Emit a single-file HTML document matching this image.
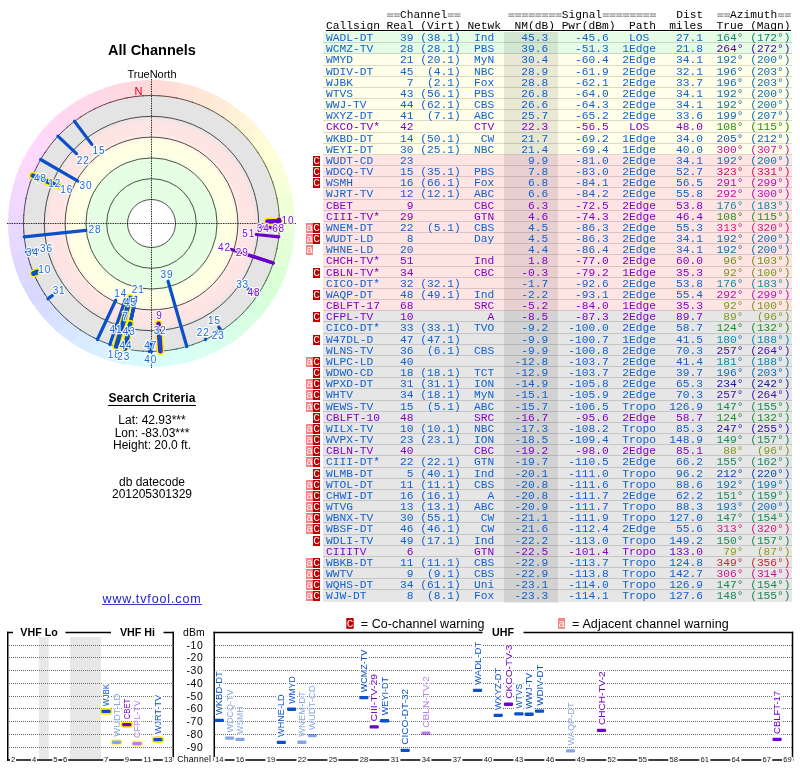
<!DOCTYPE html>
<html><head><meta charset="utf-8"><title>TV Fool</title>
<style>
html,body{margin:0;padding:0;background:#fff}
body{width:800px;height:768px;position:relative;overflow:hidden;font-family:"Liberation Sans",sans-serif;color:#000}
.abs{position:absolute}
.ctr{position:absolute;left:2px;width:300px;text-align:center;white-space:nowrap}
.mono{font-family:"Liberation Mono",monospace;font-size:11.235px;white-space:pre}
.hd{position:absolute;left:326px;height:12px;line-height:12px}
.r{position:absolute;left:323px;width:469px;box-sizing:border-box;border-bottom:1px solid rgba(0,0,0,0.14)}
.r .nm{position:absolute;left:181px;width:54px;top:0;bottom:-1px;background:rgba(0,0,0,0.085)}
.r pre{position:absolute;left:3px;top:0;margin:0;font-family:"Liberation Mono",monospace;font-size:11.235px;white-space:pre}
.eq{color:transparent}
.g{background:#e6fce6}.y{background:#fffee8}.p{background:#ffe4e4}.k{background:#e6e6e6}
.b{color:#1060d0}.v{color:#8000c8}
.wm{position:absolute;width:7px;height:10px;color:#fff;font-family:"Liberation Mono",monospace;font-size:11.235px;line-height:10px;text-align:center;overflow:hidden}
.wc{background:#c00000}.wa{background:#f48484}
svg text{font-family:"Liberation Sans",sans-serif}
</style></head><body><div id="w" style="position:absolute;left:0;top:0;width:800px;height:768px;will-change:transform;background:#fff">

<div class="ctr" style="top:42.4px;font-weight:bold;font-size:14.5px;line-height:17px">All Channels</div>
<div class="ctr" style="top:68px;font-size:11px;line-height:13px">TrueNorth</div>
<div class="ctr" style="top:391px;font-weight:bold;font-size:12px;line-height:14px"><span style="border-bottom:1px solid #000;padding-bottom:0px;letter-spacing:0.12px">Search Criteria</span></div>
<div class="ctr" style="top:414px;font-size:12px;line-height:12.5px">Lat: 42.93***<br>Lon: -83.03***<br>Height: 20.0 ft.</div>
<div class="ctr" style="top:476px;font-size:12px;line-height:12.2px">db datecode<br>201205301329</div>
<div class="ctr" style="top:591.5px;font-size:12.5px;line-height:14px;letter-spacing:0.87px;color:#2222c8">www.tvfool.com</div>
<div class="abs" style="left:102px;top:604px;width:100px;height:1px;background:#3a3acc"></div>
<svg class="abs" style="left:0;top:0" width="310" height="380" viewBox="0 0 310 380">
<defs><radialGradient id="zg" gradientUnits="userSpaceOnUse" cx="151.5" cy="223.5" r="128">
<stop offset="0.0000" stop-color="#ffffff"/>
<stop offset="0.1875" stop-color="#ffffff"/>
<stop offset="0.1876" stop-color="#e4ffe4"/>
<stop offset="0.4844" stop-color="#e4ffe4"/>
<stop offset="0.5469" stop-color="#ffffe4"/>
<stop offset="0.6406" stop-color="#ffffe4"/>
<stop offset="0.7031" stop-color="#ffe4e4"/>
<stop offset="0.7891" stop-color="#ffe4e4"/>
<stop offset="0.8438" stop-color="#e4e4e4"/>
<stop offset="1.0000" stop-color="#e4e4e4"/>
</radialGradient></defs>
<path d="M151.5 223.5 L141.37 80.36 A143.5 143.5 0 0 1 161.63 80.36 Z" fill="#ffd8d8"/>
<path d="M151.5 223.5 L160.14 80.26 A143.5 143.5 0 0 1 180.23 82.91 Z" fill="#ffddd8"/>
<path d="M151.5 223.5 L178.76 82.61 A143.5 143.5 0 0 1 198.34 87.86 Z" fill="#ffe2d8"/>
<path d="M151.5 223.5 L196.91 87.38 A143.5 143.5 0 0 1 215.64 95.13 Z" fill="#ffe7d8"/>
<path d="M151.5 223.5 L214.29 94.47 A143.5 143.5 0 0 1 231.85 104.60 Z" fill="#ffebd8"/>
<path d="M151.5 223.5 L230.60 103.77 A143.5 143.5 0 0 1 246.68 116.11 Z" fill="#fff0d8"/>
<path d="M151.5 223.5 L245.55 115.12 A143.5 143.5 0 0 1 259.88 129.45 Z" fill="#fff5d8"/>
<path d="M151.5 223.5 L258.89 128.32 A143.5 143.5 0 0 1 271.23 144.40 Z" fill="#fffad8"/>
<path d="M151.5 223.5 L270.40 143.15 A143.5 143.5 0 0 1 280.53 160.71 Z" fill="#ffffd8"/>
<path d="M151.5 223.5 L279.87 159.36 A143.5 143.5 0 0 1 287.62 178.09 Z" fill="#faffd8"/>
<path d="M151.5 223.5 L287.14 176.66 A143.5 143.5 0 0 1 292.39 196.24 Z" fill="#f5ffd8"/>
<path d="M151.5 223.5 L292.09 194.77 A143.5 143.5 0 0 1 294.74 214.86 Z" fill="#f0ffd8"/>
<path d="M151.5 223.5 L294.64 213.37 A143.5 143.5 0 0 1 294.64 233.63 Z" fill="#ebffd8"/>
<path d="M151.5 223.5 L294.74 232.14 A143.5 143.5 0 0 1 292.09 252.23 Z" fill="#e7ffd8"/>
<path d="M151.5 223.5 L292.39 250.76 A143.5 143.5 0 0 1 287.14 270.34 Z" fill="#e2ffd8"/>
<path d="M151.5 223.5 L287.62 268.91 A143.5 143.5 0 0 1 279.87 287.64 Z" fill="#ddffd8"/>
<path d="M151.5 223.5 L280.53 286.29 A143.5 143.5 0 0 1 270.40 303.85 Z" fill="#d8ffd8"/>
<path d="M151.5 223.5 L271.23 302.60 A143.5 143.5 0 0 1 258.89 318.68 Z" fill="#d8ffdd"/>
<path d="M151.5 223.5 L259.88 317.55 A143.5 143.5 0 0 1 245.55 331.88 Z" fill="#d8ffe2"/>
<path d="M151.5 223.5 L246.68 330.89 A143.5 143.5 0 0 1 230.60 343.23 Z" fill="#d8ffe7"/>
<path d="M151.5 223.5 L231.85 342.40 A143.5 143.5 0 0 1 214.29 352.53 Z" fill="#d8ffeb"/>
<path d="M151.5 223.5 L215.64 351.87 A143.5 143.5 0 0 1 196.91 359.62 Z" fill="#d8fff0"/>
<path d="M151.5 223.5 L198.34 359.14 A143.5 143.5 0 0 1 178.76 364.39 Z" fill="#d8fff5"/>
<path d="M151.5 223.5 L180.23 364.09 A143.5 143.5 0 0 1 160.14 366.74 Z" fill="#d8fffa"/>
<path d="M151.5 223.5 L161.63 366.64 A143.5 143.5 0 0 1 141.37 366.64 Z" fill="#d8ffff"/>
<path d="M151.5 223.5 L142.86 366.74 A143.5 143.5 0 0 1 122.77 364.09 Z" fill="#d8faff"/>
<path d="M151.5 223.5 L124.24 364.39 A143.5 143.5 0 0 1 104.66 359.14 Z" fill="#d8f5ff"/>
<path d="M151.5 223.5 L106.09 359.62 A143.5 143.5 0 0 1 87.36 351.87 Z" fill="#d8f0ff"/>
<path d="M151.5 223.5 L88.71 352.53 A143.5 143.5 0 0 1 71.15 342.40 Z" fill="#d8ebff"/>
<path d="M151.5 223.5 L72.40 343.23 A143.5 143.5 0 0 1 56.32 330.89 Z" fill="#d8e7ff"/>
<path d="M151.5 223.5 L57.45 331.88 A143.5 143.5 0 0 1 43.12 317.55 Z" fill="#d8e2ff"/>
<path d="M151.5 223.5 L44.11 318.68 A143.5 143.5 0 0 1 31.77 302.60 Z" fill="#d8ddff"/>
<path d="M151.5 223.5 L32.60 303.85 A143.5 143.5 0 0 1 22.47 286.29 Z" fill="#d8d8ff"/>
<path d="M151.5 223.5 L23.13 287.64 A143.5 143.5 0 0 1 15.38 268.91 Z" fill="#ddd8ff"/>
<path d="M151.5 223.5 L15.86 270.34 A143.5 143.5 0 0 1 10.61 250.76 Z" fill="#e2d8ff"/>
<path d="M151.5 223.5 L10.91 252.23 A143.5 143.5 0 0 1 8.26 232.14 Z" fill="#e7d8ff"/>
<path d="M151.5 223.5 L8.36 233.63 A143.5 143.5 0 0 1 8.36 213.37 Z" fill="#ebd8ff"/>
<path d="M151.5 223.5 L8.26 214.86 A143.5 143.5 0 0 1 10.91 194.77 Z" fill="#f0d8ff"/>
<path d="M151.5 223.5 L10.61 196.24 A143.5 143.5 0 0 1 15.86 176.66 Z" fill="#f5d8ff"/>
<path d="M151.5 223.5 L15.38 178.09 A143.5 143.5 0 0 1 23.13 159.36 Z" fill="#fad8ff"/>
<path d="M151.5 223.5 L22.47 160.71 A143.5 143.5 0 0 1 32.60 143.15 Z" fill="#ffd8ff"/>
<path d="M151.5 223.5 L31.77 144.40 A143.5 143.5 0 0 1 44.11 128.32 Z" fill="#ffd8fa"/>
<path d="M151.5 223.5 L43.12 129.45 A143.5 143.5 0 0 1 57.45 115.12 Z" fill="#ffd8f5"/>
<path d="M151.5 223.5 L56.32 116.11 A143.5 143.5 0 0 1 72.40 103.77 Z" fill="#ffd8f0"/>
<path d="M151.5 223.5 L71.15 104.60 A143.5 143.5 0 0 1 88.71 94.47 Z" fill="#ffd8eb"/>
<path d="M151.5 223.5 L87.36 95.13 A143.5 143.5 0 0 1 106.09 87.38 Z" fill="#ffd8e7"/>
<path d="M151.5 223.5 L104.66 87.86 A143.5 143.5 0 0 1 124.24 82.61 Z" fill="#ffd8e2"/>
<path d="M151.5 223.5 L122.77 82.91 A143.5 143.5 0 0 1 142.86 80.26 Z" fill="#ffd8dd"/>
<circle cx="151.5" cy="223.5" r="128" fill="url(#zg)"/>
<circle cx="151.5" cy="223.5" r="24" fill="none" stroke="#222" stroke-width="0.8"/>
<circle cx="151.5" cy="223.5" r="44.8" fill="none" stroke="#222" stroke-width="0.8"/>
<circle cx="151.5" cy="223.5" r="65.6" fill="none" stroke="#222" stroke-width="0.8"/>
<circle cx="151.5" cy="223.5" r="86.4" fill="none" stroke="#222" stroke-width="0.8"/>
<circle cx="151.5" cy="223.5" r="107.2" fill="none" stroke="#222" stroke-width="0.8"/>
<path d="M142.46 95.82 A128 128 0 0 1 160.54 95.82" fill="none" stroke="#603030" stroke-width="0.9"/>
<path d="M159.20 95.73 A128 128 0 0 1 177.13 98.09" fill="none" stroke="#603630" stroke-width="0.9"/>
<path d="M175.81 97.83 A128 128 0 0 1 193.28 102.51" fill="none" stroke="#603c30" stroke-width="0.9"/>
<path d="M192.01 102.08 A128 128 0 0 1 208.71 109.00" fill="none" stroke="#604230" stroke-width="0.9"/>
<path d="M207.51 108.41 A128 128 0 0 1 223.17 117.45" fill="none" stroke="#604830" stroke-width="0.9"/>
<path d="M222.05 116.70 A128 128 0 0 1 236.40 127.71" fill="none" stroke="#604e30" stroke-width="0.9"/>
<path d="M235.39 126.82 A128 128 0 0 1 248.18 139.61" fill="none" stroke="#605430" stroke-width="0.9"/>
<path d="M247.29 138.60 A128 128 0 0 1 258.30 152.95" fill="none" stroke="#605a30" stroke-width="0.9"/>
<path d="M257.55 151.83 A128 128 0 0 1 266.59 167.49" fill="none" stroke="#606030" stroke-width="0.9"/>
<path d="M266.00 166.29 A128 128 0 0 1 272.92 182.99" fill="none" stroke="#5a6030" stroke-width="0.9"/>
<path d="M272.49 181.72 A128 128 0 0 1 277.17 199.19" fill="none" stroke="#546030" stroke-width="0.9"/>
<path d="M276.91 197.87 A128 128 0 0 1 279.27 215.80" fill="none" stroke="#4e6030" stroke-width="0.9"/>
<path d="M279.18 214.46 A128 128 0 0 1 279.18 232.54" fill="none" stroke="#486030" stroke-width="0.9"/>
<path d="M279.27 231.20 A128 128 0 0 1 276.91 249.13" fill="none" stroke="#426030" stroke-width="0.9"/>
<path d="M277.17 247.81 A128 128 0 0 1 272.49 265.28" fill="none" stroke="#3c6030" stroke-width="0.9"/>
<path d="M272.92 264.01 A128 128 0 0 1 266.00 280.71" fill="none" stroke="#366030" stroke-width="0.9"/>
<path d="M266.59 279.51 A128 128 0 0 1 257.55 295.17" fill="none" stroke="#306030" stroke-width="0.9"/>
<path d="M258.30 294.05 A128 128 0 0 1 247.29 308.40" fill="none" stroke="#306036" stroke-width="0.9"/>
<path d="M248.18 307.39 A128 128 0 0 1 235.39 320.18" fill="none" stroke="#30603c" stroke-width="0.9"/>
<path d="M236.40 319.29 A128 128 0 0 1 222.05 330.30" fill="none" stroke="#306042" stroke-width="0.9"/>
<path d="M223.17 329.55 A128 128 0 0 1 207.51 338.59" fill="none" stroke="#306048" stroke-width="0.9"/>
<path d="M208.71 338.00 A128 128 0 0 1 192.01 344.92" fill="none" stroke="#30604e" stroke-width="0.9"/>
<path d="M193.28 344.49 A128 128 0 0 1 175.81 349.17" fill="none" stroke="#306054" stroke-width="0.9"/>
<path d="M177.13 348.91 A128 128 0 0 1 159.20 351.27" fill="none" stroke="#30605a" stroke-width="0.9"/>
<path d="M160.54 351.18 A128 128 0 0 1 142.46 351.18" fill="none" stroke="#306060" stroke-width="0.9"/>
<path d="M143.80 351.27 A128 128 0 0 1 125.87 348.91" fill="none" stroke="#305a60" stroke-width="0.9"/>
<path d="M127.19 349.17 A128 128 0 0 1 109.72 344.49" fill="none" stroke="#305460" stroke-width="0.9"/>
<path d="M110.99 344.92 A128 128 0 0 1 94.29 338.00" fill="none" stroke="#304e60" stroke-width="0.9"/>
<path d="M95.49 338.59 A128 128 0 0 1 79.83 329.55" fill="none" stroke="#304860" stroke-width="0.9"/>
<path d="M80.95 330.30 A128 128 0 0 1 66.60 319.29" fill="none" stroke="#304260" stroke-width="0.9"/>
<path d="M67.61 320.18 A128 128 0 0 1 54.82 307.39" fill="none" stroke="#303c60" stroke-width="0.9"/>
<path d="M55.71 308.40 A128 128 0 0 1 44.70 294.05" fill="none" stroke="#303660" stroke-width="0.9"/>
<path d="M45.45 295.17 A128 128 0 0 1 36.41 279.51" fill="none" stroke="#303060" stroke-width="0.9"/>
<path d="M37.00 280.71 A128 128 0 0 1 30.08 264.01" fill="none" stroke="#363060" stroke-width="0.9"/>
<path d="M30.51 265.28 A128 128 0 0 1 25.83 247.81" fill="none" stroke="#3c3060" stroke-width="0.9"/>
<path d="M26.09 249.13 A128 128 0 0 1 23.73 231.20" fill="none" stroke="#423060" stroke-width="0.9"/>
<path d="M23.82 232.54 A128 128 0 0 1 23.82 214.46" fill="none" stroke="#483060" stroke-width="0.9"/>
<path d="M23.73 215.80 A128 128 0 0 1 26.09 197.87" fill="none" stroke="#4e3060" stroke-width="0.9"/>
<path d="M25.83 199.19 A128 128 0 0 1 30.51 181.72" fill="none" stroke="#543060" stroke-width="0.9"/>
<path d="M30.08 182.99 A128 128 0 0 1 37.00 166.29" fill="none" stroke="#5a3060" stroke-width="0.9"/>
<path d="M36.41 167.49 A128 128 0 0 1 45.45 151.83" fill="none" stroke="#603060" stroke-width="0.9"/>
<path d="M44.70 152.95 A128 128 0 0 1 55.71 138.60" fill="none" stroke="#60305a" stroke-width="0.9"/>
<path d="M54.82 139.61 A128 128 0 0 1 67.61 126.82" fill="none" stroke="#603054" stroke-width="0.9"/>
<path d="M66.60 127.71 A128 128 0 0 1 80.95 116.70" fill="none" stroke="#60304e" stroke-width="0.9"/>
<path d="M79.83 117.45 A128 128 0 0 1 95.49 108.41" fill="none" stroke="#603048" stroke-width="0.9"/>
<path d="M94.29 109.00 A128 128 0 0 1 110.99 102.08" fill="none" stroke="#603042" stroke-width="0.9"/>
<path d="M109.72 102.51 A128 128 0 0 1 127.19 97.83" fill="none" stroke="#60303c" stroke-width="0.9"/>
<path d="M125.87 98.09 A128 128 0 0 1 143.80 95.73" fill="none" stroke="#603036" stroke-width="0.9"/>
<line x1="7" y1="223.5" x2="296" y2="223.5" stroke="#000" stroke-width="1" stroke-dasharray="0.857 0.857"/>
<line x1="151.5" y1="79" x2="151.5" y2="368" stroke="#000" stroke-width="1" stroke-dasharray="0.857 0.857"/>
<text x="138.5" y="95.3" font-size="11" fill="#e00020" text-anchor="middle">N</text>
<line x1="186.78" y1="346.54" x2="168.06" y2="281.26" stroke="#0a50c8" stroke-width="3.2" stroke-linecap="round"/>
<line x1="24.20" y1="236.88" x2="85.85" y2="230.40" stroke="#0a50c8" stroke-width="3.2" stroke-linecap="round"/>
<line x1="124.89" y1="348.70" x2="135.79" y2="297.43" stroke="#0a50c8" stroke-width="3.2" stroke-linecap="round"/>
<line x1="116.22" y1="346.54" x2="130.24" y2="297.66" stroke="#0a50c8" stroke-width="3.2" stroke-linecap="round"/>
<line x1="116.22" y1="346.54" x2="130.21" y2="297.76" stroke="#ffee00" stroke-width="7.8" stroke-linecap="round"/>
<line x1="116.22" y1="346.54" x2="130.21" y2="297.76" stroke="#0a50c8" stroke-width="4.6" stroke-linecap="round"/>
<line x1="124.89" y1="348.70" x2="135.01" y2="301.09" stroke="#0a50c8" stroke-width="3.2" stroke-linecap="round"/>
<line x1="124.89" y1="348.70" x2="134.96" y2="301.30" stroke="#0a50c8" stroke-width="3.2" stroke-linecap="round"/>
<line x1="109.83" y1="344.53" x2="125.30" y2="299.59" stroke="#0a50c8" stroke-width="3.2" stroke-linecap="round"/>
<line x1="273.24" y1="263.05" x2="231.40" y2="249.46" stroke="#6a00c8" stroke-width="3.2" stroke-linecap="round"/>
<line x1="97.40" y1="339.51" x2="115.73" y2="300.20" stroke="#0a50c8" stroke-width="3.2" stroke-linecap="round"/>
<line x1="40.65" y1="159.50" x2="77.94" y2="181.03" stroke="#0a50c8" stroke-width="3.2" stroke-linecap="round"/>
<line x1="124.89" y1="348.70" x2="131.35" y2="318.29" stroke="#0a50c8" stroke-width="3.2" stroke-linecap="round"/>
<line x1="74.47" y1="121.27" x2="91.87" y2="144.36" stroke="#0a50c8" stroke-width="3.2" stroke-linecap="round"/>
<line x1="32.00" y1="177.63" x2="58.02" y2="187.62" stroke="#0a50c8" stroke-width="3.2" stroke-linecap="round"/>
<line x1="32.82" y1="175.55" x2="58.47" y2="185.91" stroke="#ffee00" stroke-width="7.8" stroke-linecap="round"/>
<line x1="32.82" y1="175.55" x2="58.47" y2="185.91" stroke="#0a50c8" stroke-width="4.6" stroke-linecap="round"/>
<line x1="160.43" y1="351.19" x2="158.52" y2="323.90" stroke="#ffee00" stroke-width="7.8" stroke-linecap="round"/>
<line x1="160.43" y1="351.19" x2="158.52" y2="323.90" stroke="#6a00c8" stroke-width="4.6" stroke-linecap="round"/>
<line x1="273.24" y1="263.05" x2="248.90" y2="255.15" stroke="#6a00c8" stroke-width="3.2" stroke-linecap="round"/>
<line x1="57.89" y1="136.20" x2="76.52" y2="153.58" stroke="#0a50c8" stroke-width="3.2" stroke-linecap="round"/>
<line x1="124.89" y1="348.70" x2="130.18" y2="323.78" stroke="#ffee00" stroke-width="7.8" stroke-linecap="round"/>
<line x1="124.89" y1="348.70" x2="130.18" y2="323.78" stroke="#0a50c8" stroke-width="4.6" stroke-linecap="round"/>
<line x1="124.89" y1="348.70" x2="130.16" y2="323.88" stroke="#0a50c8" stroke-width="3.2" stroke-linecap="round"/>
<line x1="278.80" y1="236.88" x2="256.25" y2="234.51" stroke="#6a00c8" stroke-width="3.2" stroke-linecap="round"/>
<line x1="279.42" y1="227.97" x2="258.95" y2="227.25" stroke="#6a00c8" stroke-width="3.2" stroke-linecap="round"/>
<line x1="160.43" y1="351.19" x2="159.10" y2="332.20" stroke="#0a50c8" stroke-width="3.2" stroke-linecap="round"/>
<line x1="32.82" y1="175.55" x2="49.98" y2="182.49" stroke="#0a50c8" stroke-width="3.2" stroke-linecap="round"/>
<line x1="279.42" y1="227.97" x2="264.04" y2="227.43" stroke="#6a00c8" stroke-width="3.2" stroke-linecap="round"/>
<line x1="279.48" y1="221.27" x2="267.52" y2="221.47" stroke="#ffee00" stroke-width="7.8" stroke-linecap="round"/>
<line x1="279.48" y1="221.27" x2="267.52" y2="221.47" stroke="#6a00c8" stroke-width="4.6" stroke-linecap="round"/>
<line x1="257.62" y1="295.08" x2="248.31" y2="288.80" stroke="#0a50c8" stroke-width="3.2" stroke-linecap="round"/>
<line x1="151.50" y1="351.50" x2="151.50" y2="341.00" stroke="#0a50c8" stroke-width="3.2" stroke-linecap="round"/>
<line x1="26.78" y1="252.29" x2="37.02" y2="249.93" stroke="#0a50c8" stroke-width="3.2" stroke-linecap="round"/>
<line x1="149.27" y1="351.48" x2="149.40" y2="343.99" stroke="#0a50c8" stroke-width="3.2" stroke-linecap="round"/>
<line x1="116.22" y1="346.54" x2="118.25" y2="339.44" stroke="#0a50c8" stroke-width="3.2" stroke-linecap="round"/>
<line x1="47.95" y1="298.74" x2="52.24" y2="295.62" stroke="#0a50c8" stroke-width="3.2" stroke-linecap="round"/>
<line x1="26.78" y1="252.29" x2="31.75" y2="251.15" stroke="#0a50c8" stroke-width="3.2" stroke-linecap="round"/>
<line x1="221.21" y1="330.85" x2="218.78" y2="327.10" stroke="#0a50c8" stroke-width="3.2" stroke-linecap="round"/>
<line x1="257.62" y1="295.08" x2="254.77" y2="293.16" stroke="#6a00c8" stroke-width="3.2" stroke-linecap="round"/>
<line x1="33.68" y1="273.51" x2="36.90" y2="272.15" stroke="#ffee00" stroke-width="7.8" stroke-linecap="round"/>
<line x1="33.68" y1="273.51" x2="36.90" y2="272.15" stroke="#0a50c8" stroke-width="5" stroke-linecap="round"/>
<line x1="217.42" y1="333.22" x2="216.62" y2="331.88" stroke="#0a50c8" stroke-width="3.2" stroke-linecap="round"/>
<line x1="279.42" y1="219.03" x2="278.59" y2="219.06" stroke="#6a00c8" stroke-width="3.2" stroke-linecap="round"/>
<line x1="205.60" y1="339.51" x2="205.46" y2="339.22" stroke="#0a50c8" stroke-width="3.2" stroke-linecap="round"/>
<text x="99.0" y="153.7" font-size="10" letter-spacing="0.9" text-anchor="middle" fill="#1a6adc" stroke="#fff" stroke-width="2.4" stroke-linejoin="round" stroke-opacity="0.85" paint-order="stroke">15</text>
<text x="83.2" y="163.8" font-size="10" letter-spacing="0.9" text-anchor="middle" fill="#1a6adc" stroke="#fff" stroke-width="2.4" stroke-linejoin="round" stroke-opacity="0.85" paint-order="stroke">22</text>
<text x="86.0" y="188.9" font-size="10" letter-spacing="0.9" text-anchor="middle" fill="#1a6adc" stroke="#fff" stroke-width="2.4" stroke-linejoin="round" stroke-opacity="0.85" paint-order="stroke">30</text>
<text x="40.5" y="182.4" font-size="10" letter-spacing="0.9" text-anchor="middle" fill="#1a6adc" stroke="#fff" stroke-width="2.4" stroke-linejoin="round" stroke-opacity="0.85" paint-order="stroke">48</text>
<text x="54.8" y="186.9" font-size="10" letter-spacing="0.9" text-anchor="middle" fill="#1a6adc" stroke="#fff" stroke-width="2.4" stroke-linejoin="round" stroke-opacity="0.85" paint-order="stroke">12</text>
<text x="66.8" y="193.4" font-size="10" letter-spacing="0.9" text-anchor="middle" fill="#1a6adc" stroke="#fff" stroke-width="2.4" stroke-linejoin="round" stroke-opacity="0.85" paint-order="stroke">16</text>
<text x="95.0" y="233.1" font-size="10" letter-spacing="0.9" text-anchor="middle" fill="#1a6adc" stroke="#fff" stroke-width="2.4" stroke-linejoin="round" stroke-opacity="0.85" paint-order="stroke">28</text>
<text x="32.5" y="255.6" font-size="10" letter-spacing="0.9" text-anchor="middle" fill="#1a6adc" stroke="#fff" stroke-width="2.4" stroke-linejoin="round" stroke-opacity="0.85" paint-order="stroke">34</text>
<text x="46.5" y="252.3" font-size="10" letter-spacing="0.9" text-anchor="middle" fill="#1a6adc" stroke="#fff" stroke-width="2.4" stroke-linejoin="round" stroke-opacity="0.85" paint-order="stroke">36</text>
<text x="44.7" y="272.9" font-size="10" letter-spacing="0.9" text-anchor="middle" fill="#1a6adc" stroke="#fff" stroke-width="2.4" stroke-linejoin="round" stroke-opacity="0.85" paint-order="stroke">10</text>
<text x="59.1" y="294.4" font-size="10" letter-spacing="0.9" text-anchor="middle" fill="#1a6adc" stroke="#fff" stroke-width="2.4" stroke-linejoin="round" stroke-opacity="0.85" paint-order="stroke">31</text>
<text x="120.7" y="297.0" font-size="10" letter-spacing="0.9" text-anchor="middle" fill="#1a6adc" stroke="#fff" stroke-width="2.4" stroke-linejoin="round" stroke-opacity="0.85" paint-order="stroke">14</text>
<text x="138.3" y="293.1" font-size="10" letter-spacing="0.9" text-anchor="middle" fill="#1a6adc" stroke="#fff" stroke-width="2.4" stroke-linejoin="round" stroke-opacity="0.85" paint-order="stroke">21</text>
<text x="130.5" y="306.2" font-size="10" letter-spacing="0.9" text-anchor="middle" fill="#1a6adc" stroke="#fff" stroke-width="2.4" stroke-linejoin="round" stroke-opacity="0.85" paint-order="stroke">45</text>
<text x="125.4" y="319.8" font-size="10" letter-spacing="0.9" text-anchor="middle" fill="#1a6adc" stroke="#fff" stroke-width="2.4" stroke-linejoin="round" stroke-opacity="0.85" paint-order="stroke">7</text>
<text x="115.9" y="332.5" font-size="10" letter-spacing="0.9" text-anchor="middle" fill="#1a6adc" stroke="#fff" stroke-width="2.4" stroke-linejoin="round" stroke-opacity="0.85" paint-order="stroke">41</text>
<text x="129.2" y="335.4" font-size="10" letter-spacing="0.9" text-anchor="middle" fill="#1a6adc" stroke="#fff" stroke-width="2.4" stroke-linejoin="round" stroke-opacity="0.85" paint-order="stroke">43</text>
<text x="125.9" y="348.9" font-size="10" letter-spacing="0.9" text-anchor="middle" fill="#1a6adc" stroke="#fff" stroke-width="2.4" stroke-linejoin="round" stroke-opacity="0.85" paint-order="stroke">44</text>
<text x="114.2" y="358.2" font-size="10" letter-spacing="0.9" text-anchor="middle" fill="#1a6adc" stroke="#fff" stroke-width="2.4" stroke-linejoin="round" stroke-opacity="0.85" paint-order="stroke">18</text>
<text x="123.7" y="360.2" font-size="10" letter-spacing="0.9" text-anchor="middle" fill="#1a6adc" stroke="#fff" stroke-width="2.4" stroke-linejoin="round" stroke-opacity="0.85" paint-order="stroke">23</text>
<text x="159.4" y="318.9" font-size="10" letter-spacing="0.9" text-anchor="middle" fill="#7a10d8" stroke="#fff" stroke-width="2.4" stroke-linejoin="round" stroke-opacity="0.85" paint-order="stroke">9</text>
<text x="160.3" y="333.8" font-size="10" letter-spacing="0.9" text-anchor="middle" fill="#1a6adc" stroke="#fff" stroke-width="2.4" stroke-linejoin="round" stroke-opacity="0.85" paint-order="stroke">32</text>
<text x="150.8" y="348.9" font-size="10" letter-spacing="0.9" text-anchor="middle" fill="#1a6adc" stroke="#fff" stroke-width="2.4" stroke-linejoin="round" stroke-opacity="0.85" paint-order="stroke">47</text>
<text x="150.8" y="363.2" font-size="10" letter-spacing="0.9" text-anchor="middle" fill="#1a6adc" stroke="#fff" stroke-width="2.4" stroke-linejoin="round" stroke-opacity="0.85" paint-order="stroke">40</text>
<text x="167.0" y="277.5" font-size="10" letter-spacing="0.9" text-anchor="middle" fill="#1a6adc" stroke="#fff" stroke-width="2.4" stroke-linejoin="round" stroke-opacity="0.85" paint-order="stroke">39</text>
<text x="287.9" y="223.8" font-size="10" letter-spacing="0.9" text-anchor="middle" fill="#7a10d8" stroke="#fff" stroke-width="2.4" stroke-linejoin="round" stroke-opacity="0.85" paint-order="stroke">10</text>
<text x="263.3" y="232.3" font-size="10" letter-spacing="0.9" text-anchor="middle" fill="#7a10d8" stroke="#fff" stroke-width="2.4" stroke-linejoin="round" stroke-opacity="0.85" paint-order="stroke">34</text>
<text x="278.6" y="232.3" font-size="10" letter-spacing="0.9" text-anchor="middle" fill="#7a10d8" stroke="#fff" stroke-width="2.4" stroke-linejoin="round" stroke-opacity="0.85" paint-order="stroke">68</text>
<text x="248.8" y="237.0" font-size="10" letter-spacing="0.9" text-anchor="middle" fill="#7a10d8" stroke="#fff" stroke-width="2.4" stroke-linejoin="round" stroke-opacity="0.85" paint-order="stroke">51</text>
<text x="242.3" y="256.1" font-size="10" letter-spacing="0.9" text-anchor="middle" fill="#7a10d8" stroke="#fff" stroke-width="2.4" stroke-linejoin="round" stroke-opacity="0.85" paint-order="stroke">29</text>
<text x="224.5" y="251.3" font-size="10" letter-spacing="0.9" text-anchor="middle" fill="#7a10d8" stroke="#fff" stroke-width="2.4" stroke-linejoin="round" stroke-opacity="0.85" paint-order="stroke">42</text>
<text x="242.6" y="287.9" font-size="10" letter-spacing="0.9" text-anchor="middle" fill="#1a6adc" stroke="#fff" stroke-width="2.4" stroke-linejoin="round" stroke-opacity="0.85" paint-order="stroke">33</text>
<text x="254.0" y="295.9" font-size="10" letter-spacing="0.9" text-anchor="middle" fill="#7a10d8" stroke="#fff" stroke-width="2.4" stroke-linejoin="round" stroke-opacity="0.85" paint-order="stroke">48</text>
<text x="214.5" y="323.8" font-size="10" letter-spacing="0.9" text-anchor="middle" fill="#1a6adc" stroke="#fff" stroke-width="2.4" stroke-linejoin="round" stroke-opacity="0.85" paint-order="stroke">15</text>
<text x="203.2" y="335.5" font-size="10" letter-spacing="0.9" text-anchor="middle" fill="#1a6adc" stroke="#fff" stroke-width="2.4" stroke-linejoin="round" stroke-opacity="0.85" paint-order="stroke">22</text>
<text x="218.2" y="338.5" font-size="10" letter-spacing="0.9" text-anchor="middle" fill="#1a6adc" stroke="#fff" stroke-width="2.4" stroke-linejoin="round" stroke-opacity="0.85" paint-order="stroke">23</text>
</svg>
<div class="hd mono" style="top:9px"> <span> </span>       <span class="eq">=</span><span class="eq">=</span>Channel<span class="eq">=</span><span class="eq">=</span>       <span class="eq">=</span><span class="eq">=</span><span class="eq">=</span><span class="eq">=</span><span class="eq">=</span><span class="eq">=</span><span class="eq">=</span><span class="eq">=</span>Signal<span class="eq">=</span><span class="eq">=</span><span class="eq">=</span><span class="eq">=</span><span class="eq">=</span><span class="eq">=</span><span class="eq">=</span><span class="eq">=</span>   Dist  <span class="eq">=</span><span class="eq">=</span>Azimuth<span class="eq">=</span><span class="eq">=</span></div>
<div class="hd mono" style="top:20px">Callsign Real (Virt) Netwk  NM(dB) Pwr(dBm)  Path  miles  True (Magn)</div>
<div class="abs" style="left:326px;top:30px;width:465px;height:1px;background:#000"></div>
<svg class="abs" style="left:0;top:0" width="800" height="24"><rect x="387.03" y="13.3" width="6.04" height="1.35" fill="#999"/><rect x="387.03" y="15.55" width="6.04" height="1.35" fill="#999"/><rect x="393.77" y="13.3" width="6.04" height="1.35" fill="#999"/><rect x="393.77" y="15.55" width="6.04" height="1.35" fill="#999"/><rect x="447.71" y="13.3" width="6.04" height="1.35" fill="#999"/><rect x="447.71" y="15.55" width="6.04" height="1.35" fill="#999"/><rect x="454.45" y="13.3" width="6.04" height="1.35" fill="#999"/><rect x="454.45" y="15.55" width="6.04" height="1.35" fill="#999"/><rect x="508.39" y="13.3" width="6.04" height="1.35" fill="#999"/><rect x="508.39" y="15.55" width="6.04" height="1.35" fill="#999"/><rect x="515.13" y="13.3" width="6.04" height="1.35" fill="#999"/><rect x="515.13" y="15.55" width="6.04" height="1.35" fill="#999"/><rect x="521.87" y="13.3" width="6.04" height="1.35" fill="#999"/><rect x="521.87" y="15.55" width="6.04" height="1.35" fill="#999"/><rect x="528.61" y="13.3" width="6.04" height="1.35" fill="#999"/><rect x="528.61" y="15.55" width="6.04" height="1.35" fill="#999"/><rect x="535.36" y="13.3" width="6.04" height="1.35" fill="#999"/><rect x="535.36" y="15.55" width="6.04" height="1.35" fill="#999"/><rect x="542.10" y="13.3" width="6.04" height="1.35" fill="#999"/><rect x="542.10" y="15.55" width="6.04" height="1.35" fill="#999"/><rect x="548.84" y="13.3" width="6.04" height="1.35" fill="#999"/><rect x="548.84" y="15.55" width="6.04" height="1.35" fill="#999"/><rect x="555.58" y="13.3" width="6.04" height="1.35" fill="#999"/><rect x="555.58" y="15.55" width="6.04" height="1.35" fill="#999"/><rect x="602.78" y="13.3" width="6.04" height="1.35" fill="#999"/><rect x="602.78" y="15.55" width="6.04" height="1.35" fill="#999"/><rect x="609.52" y="13.3" width="6.04" height="1.35" fill="#999"/><rect x="609.52" y="15.55" width="6.04" height="1.35" fill="#999"/><rect x="616.26" y="13.3" width="6.04" height="1.35" fill="#999"/><rect x="616.26" y="15.55" width="6.04" height="1.35" fill="#999"/><rect x="623.00" y="13.3" width="6.04" height="1.35" fill="#999"/><rect x="623.00" y="15.55" width="6.04" height="1.35" fill="#999"/><rect x="629.75" y="13.3" width="6.04" height="1.35" fill="#999"/><rect x="629.75" y="15.55" width="6.04" height="1.35" fill="#999"/><rect x="636.49" y="13.3" width="6.04" height="1.35" fill="#999"/><rect x="636.49" y="15.55" width="6.04" height="1.35" fill="#999"/><rect x="643.23" y="13.3" width="6.04" height="1.35" fill="#999"/><rect x="643.23" y="15.55" width="6.04" height="1.35" fill="#999"/><rect x="649.97" y="13.3" width="6.04" height="1.35" fill="#999"/><rect x="649.97" y="15.55" width="6.04" height="1.35" fill="#999"/><rect x="717.39" y="13.3" width="6.04" height="1.35" fill="#999"/><rect x="717.39" y="15.55" width="6.04" height="1.35" fill="#999"/><rect x="724.14" y="13.3" width="6.04" height="1.35" fill="#999"/><rect x="724.14" y="15.55" width="6.04" height="1.35" fill="#999"/><rect x="778.07" y="13.3" width="6.04" height="1.35" fill="#999"/><rect x="778.07" y="15.55" width="6.04" height="1.35" fill="#999"/><rect x="784.81" y="13.3" width="6.04" height="1.35" fill="#999"/><rect x="784.81" y="15.55" width="6.04" height="1.35" fill="#999"/></svg>
<div class="r g" style="top:32px;height:11px"><div class="nm"></div><pre class="b" style="line-height:12px">WADL-DT    39 (38.1)  Ind    45.3    -45.6   LOS    27.1  <span style="color:#108070">164° (172°)</span></pre></div>
<div class="r g" style="top:43px;height:11px"><div class="nm"></div><pre class="b" style="line-height:12px">WCMZ-TV    28 (28.1)  PBS    39.6    -51.3  1Edge   21.8  <span style="color:#5000a0">264° (272°)</span></pre></div>
<div class="r y" style="top:54px;height:12px"><div class="nm"></div><pre class="b" style="line-height:13px">WMYD       21 (20.1)  MyN    30.4    -60.4  2Edge   34.1  <span style="color:#1070b0">192° (200°)</span></pre></div>
<div class="r y" style="top:66px;height:11px"><div class="nm"></div><pre class="b" style="line-height:12px">WDIV-DT    45  (4.1)  NBC    28.9    -61.9  2Edge   32.1  <span style="color:#106bb2">196° (203°)</span></pre></div>
<div class="r y" style="top:77px;height:11px"><div class="nm"></div><pre class="b" style="line-height:12px">WJBK        7  (2.1)  Fox    28.8    -62.1  2Edge   33.7  <span style="color:#106bb2">196° (203°)</span></pre></div>
<div class="r y" style="top:88px;height:11px"><div class="nm"></div><pre class="b" style="line-height:12px">WTVS       43 (56.1)  PBS    26.8    -64.0  2Edge   34.1  <span style="color:#1070b0">192° (200°)</span></pre></div>
<div class="r y" style="top:99px;height:11px"><div class="nm"></div><pre class="b" style="line-height:12px">WWJ-TV     44 (62.1)  CBS    26.6    -64.3  2Edge   34.1  <span style="color:#1070b0">192° (200°)</span></pre></div>
<div class="r y" style="top:110px;height:11px"><div class="nm"></div><pre class="b" style="line-height:12px">WXYZ-DT    41  (7.1)  ABC    25.7    -65.2  2Edge   33.6  <span style="color:#1068b4">199° (207°)</span></pre></div>
<div class="r y" style="top:121px;height:12px"><div class="nm"></div><pre class="v" style="line-height:13px">CKCO-TV*   42         CTV    22.3    -56.5   LOS    48.0  <span style="color:#2c8c18">108° (115°)</span></pre></div>
<div class="r y" style="top:133px;height:11px"><div class="nm"></div><pre class="b" style="line-height:12px">WKBD-DT    14 (50.1)   CW    21.7    -69.2  1Edge   34.0  <span style="color:#145cb8">205° (212°)</span></pre></div>
<div class="r y" style="top:144px;height:11px"><div class="nm"></div><pre class="b" style="line-height:12px">WEYI-DT    30 (25.1)  NBC    21.4    -69.4  1Edge   40.0  <span style="color:#c010a0">300° (307°)</span></pre></div>
<div class="r p" style="top:155px;height:11px"><div class="nm"></div><pre class="b" style="line-height:12px">WUDT-CD    23                 9.9    -81.0  2Edge   34.1  <span style="color:#1070b0">192° (200°)</span></pre></div>
<div class="wm wc" style="left:313px;top:156px">C</div>
<div class="r p" style="top:166px;height:11px"><div class="nm"></div><pre class="b" style="line-height:12px">WDCQ-TV    15 (35.1)  PBS     7.8    -83.0  2Edge   52.7  <span style="color:#c81060">323° (331°)</span></pre></div>
<div class="wm wc" style="left:313px;top:167px">C</div>
<div class="r p" style="top:177px;height:11px"><div class="nm"></div><pre class="b" style="line-height:12px">WSMH       16 (66.1)  Fox     6.8    -84.1  2Edge   56.5  <span style="color:#b40faf">291° (299°)</span></pre></div>
<div class="wm wc" style="left:313px;top:178px">C</div>
<div class="r p" style="top:188px;height:12px"><div class="nm"></div><pre class="b" style="line-height:13px">WJRT-TV    12 (12.1)  ABC     6.6    -84.2  2Edge   55.8  <span style="color:#b810b0">292° (300°)</span></pre></div>
<div class="r p" style="top:200px;height:11px"><div class="nm"></div><pre class="v" style="line-height:12px">CBET        9         CBC     6.3    -72.5  2Edge   53.8  <span style="color:#1088a8">176° (183°)</span></pre></div>
<div class="r p" style="top:211px;height:11px"><div class="nm"></div><pre class="v" style="line-height:12px">CIII-TV*   29         GTN     4.6    -74.3  2Edge   46.4  <span style="color:#2c8c18">108° (115°)</span></pre></div>
<div class="r p" style="top:222px;height:11px"><div class="nm"></div><pre class="b" style="line-height:12px">WNEM-DT    22  (5.1)  CBS     4.5    -86.3  2Edge   55.3  <span style="color:#d01880">313° (320°)</span></pre></div>
<div class="wm wa" style="left:306px;top:223px">a</div>
<div class="wm wc" style="left:313px;top:223px">C</div>
<div class="r p" style="top:233px;height:11px"><div class="nm"></div><pre class="b" style="line-height:12px">WUDT-LD     8         Day     4.5    -86.3  2Edge   34.1  <span style="color:#1070b0">192° (200°)</span></pre></div>
<div class="wm wa" style="left:306px;top:234px">a</div>
<div class="wm wc" style="left:313px;top:234px">C</div>
<div class="r p" style="top:244px;height:11px"><div class="nm"></div><pre class="b" style="line-height:12px">WHNE-LD    20                 4.4    -86.4  2Edge   34.1  <span style="color:#1070b0">192° (200°)</span></pre></div>
<div class="wm wa" style="left:306px;top:245px">a</div>
<div class="r p" style="top:255px;height:12px"><div class="nm"></div><pre class="v" style="line-height:13px">CHCH-TV*   51         Ind     1.8    -77.0  2Edge   60.0  <span style="color:#689418"> 96° (103°)</span></pre></div>
<div class="r p" style="top:267px;height:11px"><div class="nm"></div><pre class="v" style="line-height:12px">CBLN-TV*   34         CBC    -0.3    -79.2  1Edge   35.3  <span style="color:#75971b"> 92° (100°)</span></pre></div>
<div class="wm wc" style="left:313px;top:268px">C</div>
<div class="r p" style="top:278px;height:11px"><div class="nm"></div><pre class="b" style="line-height:12px">CICO-DT*   32 (32.1)         -1.7    -92.6  2Edge   53.8  <span style="color:#1088a8">176° (183°)</span></pre></div>
<div class="r p" style="top:289px;height:11px"><div class="nm"></div><pre class="b" style="line-height:12px">WAQP-DT    48 (49.1)  Ind    -2.2    -93.1  2Edge   55.4  <span style="color:#b810b0">292° (299°)</span></pre></div>
<div class="wm wc" style="left:313px;top:290px">C</div>
<div class="r p" style="top:300px;height:11px"><div class="nm"></div><pre class="v" style="line-height:12px">CBLFT-17   68         SRC    -5.2    -84.0  1Edge   35.3  <span style="color:#75971b"> 92° (100°)</span></pre></div>
<div class="r k" style="top:311px;height:11px"><div class="nm"></div><pre class="v" style="line-height:12px">CFPL-TV    10           A    -8.5    -87.3  2Edge   89.7  <span style="color:#7e981c"> 89°  (96°)</span></pre></div>
<div class="wm wc" style="left:313px;top:312px">C</div>
<div class="r k" style="top:322px;height:12px"><div class="nm"></div><pre class="b" style="line-height:13px">CICO-DT*   33 (33.1)  TVO    -9.2   -100.0  2Edge   58.7  <span style="color:#209020">124° (132°)</span></pre></div>
<div class="r k" style="top:334px;height:11px"><div class="nm"></div><pre class="b" style="line-height:12px">W47DL-D    47 (47.1)         -9.9   -100.7  1Edge   41.5  <span style="color:#0888b4">180° (188°)</span></pre></div>
<div class="wm wc" style="left:313px;top:335px">C</div>
<div class="r k" style="top:345px;height:11px"><div class="nm"></div><pre class="b" style="line-height:12px">WLNS-TV    36  (6.1)  CBS    -9.9   -100.8  2Edge   70.3  <span style="color:#3c10ac">257° (264°)</span></pre></div>
<div class="r k" style="top:356px;height:11px"><div class="nm"></div><pre class="b" style="line-height:12px">WLPC-LD    40               -12.8   -103.7  2Edge   41.4  <span style="color:#0986b4">181° (188°)</span></pre></div>
<div class="wm wa" style="left:306px;top:357px">a</div>
<div class="wm wc" style="left:313px;top:357px">C</div>
<div class="r k" style="top:367px;height:11px"><div class="nm"></div><pre class="b" style="line-height:12px">WDWO-CD    18 (18.1)  TCT   -12.9   -103.7  2Edge   39.7  <span style="color:#106bb2">196° (203°)</span></pre></div>
<div class="wm wc" style="left:313px;top:368px">C</div>
<div class="r k" style="top:378px;height:11px"><div class="nm"></div><pre class="b" style="line-height:12px">WPXD-DT    31 (31.1)  ION   -14.9   -105.8  2Edge   65.3  <span style="color:#1818a0">234° (242°)</span></pre></div>
<div class="wm wa" style="left:306px;top:379px">a</div>
<div class="wm wc" style="left:313px;top:379px">C</div>
<div class="r k" style="top:389px;height:12px"><div class="nm"></div><pre class="b" style="line-height:13px">WHTV       34 (18.1)  MyN   -15.1   -105.9  2Edge   70.3  <span style="color:#3c10ac">257° (264°)</span></pre></div>
<div class="wm wa" style="left:306px;top:390px">a</div>
<div class="wm wc" style="left:313px;top:390px">C</div>
<div class="r k" style="top:401px;height:11px"><div class="nm"></div><pre class="b" style="line-height:12px">WEWS-TV    15  (5.1)  ABC   -15.7   -106.5  Tropo  126.9  <span style="color:#188852">147° (155°)</span></pre></div>
<div class="wm wa" style="left:306px;top:402px">a</div>
<div class="wm wc" style="left:313px;top:402px">C</div>
<div class="r k" style="top:412px;height:11px"><div class="nm"></div><pre class="v" style="line-height:12px">CBLFT-10   48         SRC   -16.7    -95.6  2Edge   58.7  <span style="color:#209020">124° (132°)</span></pre></div>
<div class="wm wc" style="left:313px;top:413px">C</div>
<div class="r k" style="top:423px;height:11px"><div class="nm"></div><pre class="b" style="line-height:12px">WILX-TV    10 (10.1)  NBC   -17.3   -108.2  Tropo   85.3  <span style="color:#2410b0">247° (255°)</span></pre></div>
<div class="wm wa" style="left:306px;top:424px">a</div>
<div class="wm wc" style="left:313px;top:424px">C</div>
<div class="r k" style="top:434px;height:11px"><div class="nm"></div><pre class="b" style="line-height:12px">WVPX-TV    23 (23.1)  ION   -18.5   -109.4  Tropo  148.9  <span style="color:#188856">149° (157°)</span></pre></div>
<div class="wm wa" style="left:306px;top:435px">a</div>
<div class="wm wc" style="left:313px;top:435px">C</div>
<div class="r k" style="top:445px;height:11px"><div class="nm"></div><pre class="v" style="line-height:12px">CBLN-TV    40         CBC   -19.2    -98.0  2Edge   85.1  <span style="color:#80981b"> 88°  (96°)</span></pre></div>
<div class="wm wa" style="left:306px;top:446px">a</div>
<div class="wm wc" style="left:313px;top:446px">C</div>
<div class="r k" style="top:456px;height:12px"><div class="nm"></div><pre class="b" style="line-height:13px">CIII-DT*   22 (22.1)  GTN   -19.7   -110.5  2Edge   66.2  <span style="color:#188860">155° (162°)</span></pre></div>
<div class="wm wa" style="left:306px;top:457px">a</div>
<div class="wm wc" style="left:313px;top:457px">C</div>
<div class="r k" style="top:468px;height:11px"><div class="nm"></div><pre class="b" style="line-height:12px">WLMB-DT     5 (40.1)  Ind   -20.1   -111.0  Tropo   96.2  <span style="color:#1048b8">212° (220°)</span></pre></div>
<div class="wm wc" style="left:313px;top:469px">C</div>
<div class="r k" style="top:479px;height:11px"><div class="nm"></div><pre class="b" style="line-height:12px">WTOL-DT    11 (11.1)  CBS   -20.8   -111.6  Tropo   88.6  <span style="color:#1070b0">192° (199°)</span></pre></div>
<div class="wm wa" style="left:306px;top:480px">a</div>
<div class="wm wc" style="left:313px;top:480px">C</div>
<div class="r k" style="top:490px;height:11px"><div class="nm"></div><pre class="b" style="line-height:12px">CHWI-DT    16 (16.1)    A   -20.8   -111.7  2Edge   62.2  <span style="color:#188859">151° (159°)</span></pre></div>
<div class="wm wa" style="left:306px;top:491px">a</div>
<div class="wm wc" style="left:313px;top:491px">C</div>
<div class="r k" style="top:501px;height:11px"><div class="nm"></div><pre class="b" style="line-height:12px">WTVG       13 (13.1)  ABC   -20.9   -111.7  Tropo   88.3  <span style="color:#106fb1">193° (200°)</span></pre></div>
<div class="wm wa" style="left:306px;top:502px">a</div>
<div class="wm wc" style="left:313px;top:502px">C</div>
<div class="r k" style="top:512px;height:11px"><div class="nm"></div><pre class="b" style="line-height:12px">WBNX-TV    30 (55.1)   CW   -21.1   -111.9  Tropo  127.0  <span style="color:#188852">147° (154°)</span></pre></div>
<div class="wm wa" style="left:306px;top:513px">a</div>
<div class="wm wc" style="left:313px;top:513px">C</div>
<div class="r k" style="top:523px;height:12px"><div class="nm"></div><pre class="b" style="line-height:13px">WBSF-DT    46 (46.1)   CW   -21.6   -112.4  2Edge   55.6  <span style="color:#d01880">313° (320°)</span></pre></div>
<div class="wm wa" style="left:306px;top:524px">a</div>
<div class="wm wc" style="left:313px;top:524px">C</div>
<div class="r k" style="top:535px;height:11px"><div class="nm"></div><pre class="b" style="line-height:12px">WDLI-TV    49 (17.1)  Ind   -22.2   -113.0  Tropo  149.2  <span style="color:#188857">150° (157°)</span></pre></div>
<div class="wm wc" style="left:313px;top:536px">C</div>
<div class="r k" style="top:546px;height:11px"><div class="nm"></div><pre class="v" style="line-height:12px">CIIITV      6         GTN   -22.5   -101.4  Tropo  133.0  <span style="color:#909818"> 79°  (87°)</span></pre></div>
<div class="r k" style="top:557px;height:11px"><div class="nm"></div><pre class="b" style="line-height:12px">WBKB-DT    11 (11.1)  CBS   -22.9   -113.7  Tropo  124.8  <span style="color:#d02030">349° (356°)</span></pre></div>
<div class="wm wa" style="left:306px;top:558px">a</div>
<div class="wm wc" style="left:313px;top:558px">C</div>
<div class="r k" style="top:568px;height:11px"><div class="nm"></div><pre class="b" style="line-height:12px">WWTV        9  (9.1)  CBS   -22.9   -113.8  Tropo  142.7  <span style="color:#c81490">306° (314°)</span></pre></div>
<div class="wm wa" style="left:306px;top:569px">a</div>
<div class="wm wc" style="left:313px;top:569px">C</div>
<div class="r k" style="top:579px;height:11px"><div class="nm"></div><pre class="b" style="line-height:12px">WQHS-DT    34 (61.1)  Uni   -23.1   -114.0  Tropo  126.9  <span style="color:#188852">147° (154°)</span></pre></div>
<div class="wm wa" style="left:306px;top:580px">a</div>
<div class="wm wc" style="left:313px;top:580px">C</div>
<div class="r k" style="top:590px;height:12px;border-bottom:0"><div class="nm"></div><pre class="b" style="line-height:13px">WJW-DT      8  (8.1)  Fox   -23.3   -114.1  Tropo  127.6  <span style="color:#188854">148° (155°)</span></pre></div>
<div class="wm wa" style="left:306px;top:591px">a</div>
<div class="wm wc" style="left:313px;top:591px">C</div>
<svg class="abs" style="left:0;top:608px" width="800" height="160" viewBox="0 608 800 160">
<rect x="39" y="637" width="9.8" height="122" fill="#e8e8e8"/>
<rect x="70" y="637" width="31" height="122" fill="#e8e8e8"/>
<line x1="9" y1="645.5" x2="172" y2="645.5" stroke="#6a6a6a" stroke-width="1" stroke-dasharray="1 1"/>
<line x1="215" y1="645.5" x2="792" y2="645.5" stroke="#6a6a6a" stroke-width="1" stroke-dasharray="1 1"/>
<text x="186.4" y="648.6" font-size="10.4" letter-spacing="0.7">-10</text>
<line x1="9" y1="657.5" x2="172" y2="657.5" stroke="#6a6a6a" stroke-width="1" stroke-dasharray="1 1"/>
<line x1="215" y1="657.5" x2="792" y2="657.5" stroke="#6a6a6a" stroke-width="1" stroke-dasharray="1 1"/>
<text x="186.4" y="660.6" font-size="10.4" letter-spacing="0.7">-20</text>
<line x1="9" y1="670.5" x2="172" y2="670.5" stroke="#6a6a6a" stroke-width="1" stroke-dasharray="1 1"/>
<line x1="215" y1="670.5" x2="792" y2="670.5" stroke="#6a6a6a" stroke-width="1" stroke-dasharray="1 1"/>
<text x="186.4" y="673.6" font-size="10.4" letter-spacing="0.7">-30</text>
<line x1="9" y1="683.5" x2="172" y2="683.5" stroke="#6a6a6a" stroke-width="1" stroke-dasharray="1 1"/>
<line x1="215" y1="683.5" x2="792" y2="683.5" stroke="#6a6a6a" stroke-width="1" stroke-dasharray="1 1"/>
<text x="186.4" y="686.6" font-size="10.4" letter-spacing="0.7">-40</text>
<line x1="9" y1="696.5" x2="172" y2="696.5" stroke="#6a6a6a" stroke-width="1" stroke-dasharray="1 1"/>
<line x1="215" y1="696.5" x2="792" y2="696.5" stroke="#6a6a6a" stroke-width="1" stroke-dasharray="1 1"/>
<text x="186.4" y="699.6" font-size="10.4" letter-spacing="0.7">-50</text>
<line x1="9" y1="708.5" x2="172" y2="708.5" stroke="#6a6a6a" stroke-width="1" stroke-dasharray="1 1"/>
<line x1="215" y1="708.5" x2="792" y2="708.5" stroke="#6a6a6a" stroke-width="1" stroke-dasharray="1 1"/>
<text x="186.4" y="711.6" font-size="10.4" letter-spacing="0.7">-60</text>
<line x1="9" y1="721.5" x2="172" y2="721.5" stroke="#6a6a6a" stroke-width="1" stroke-dasharray="1 1"/>
<line x1="215" y1="721.5" x2="792" y2="721.5" stroke="#6a6a6a" stroke-width="1" stroke-dasharray="1 1"/>
<text x="186.4" y="724.6" font-size="10.4" letter-spacing="0.7">-70</text>
<line x1="9" y1="734.5" x2="172" y2="734.5" stroke="#6a6a6a" stroke-width="1" stroke-dasharray="1 1"/>
<line x1="215" y1="734.5" x2="792" y2="734.5" stroke="#6a6a6a" stroke-width="1" stroke-dasharray="1 1"/>
<text x="186.4" y="737.6" font-size="10.4" letter-spacing="0.7">-80</text>
<line x1="9" y1="747.5" x2="172" y2="747.5" stroke="#6a6a6a" stroke-width="1" stroke-dasharray="1 1"/>
<line x1="215" y1="747.5" x2="792" y2="747.5" stroke="#6a6a6a" stroke-width="1" stroke-dasharray="1 1"/>
<text x="186.4" y="750.6" font-size="10.4" letter-spacing="0.7">-90</text>
<line x1="7.75" y1="631.75" x2="7.75" y2="760.75" stroke="#000" stroke-width="1.5"/>
<line x1="173.25" y1="631.75" x2="173.25" y2="760.75" stroke="#000" stroke-width="1.5"/>
<line x1="214.25" y1="631.75" x2="214.25" y2="760.75" stroke="#000" stroke-width="1.5"/>
<line x1="792.5" y1="631.75" x2="792.5" y2="760.75" stroke="#000" stroke-width="1.5"/>
<line x1="7" y1="632.5" x2="13" y2="632.5" stroke="#000" stroke-width="1.5"/>
<line x1="65.5" y1="632.5" x2="111" y2="632.5" stroke="#000" stroke-width="1.5"/>
<line x1="163.5" y1="632.5" x2="174" y2="632.5" stroke="#000" stroke-width="1.5"/>
<line x1="213.5" y1="632.5" x2="482.5" y2="632.5" stroke="#000" stroke-width="1.5"/>
<line x1="523.5" y1="632.5" x2="793.25" y2="632.5" stroke="#000" stroke-width="1.5"/>
<line x1="7" y1="760" x2="174" y2="760" stroke="#000" stroke-width="1.5"/>
<line x1="213.5" y1="760" x2="793.25" y2="760" stroke="#000" stroke-width="1.5"/>
<text x="39" y="635.9" font-size="10.7" font-weight="bold" text-anchor="middle">VHF Lo</text>
<text x="137.5" y="635.9" font-size="10.7" font-weight="bold" text-anchor="middle">VHF Hi</text>
<text x="503" y="635.9" font-size="10.7" font-weight="bold" text-anchor="middle">UHF</text>
<text x="183" y="635.5" font-size="10.4" letter-spacing="0.1">dBm</text>
<text x="177.2" y="762" font-size="8.7" letter-spacing="0.25">Channel</text>
<rect x="10.1" y="757" width="6" height="6" fill="#fff"/>
<text x="13.1" y="762.3" font-size="7.6" text-anchor="middle" fill="#111">2</text>
<rect x="31.0" y="757" width="6" height="6" fill="#fff"/>
<text x="34.0" y="762.3" font-size="7.6" text-anchor="middle" fill="#111">4</text>
<rect x="52.3" y="757" width="6" height="6" fill="#fff"/>
<text x="55.3" y="762.3" font-size="7.6" text-anchor="middle" fill="#111">5</text>
<rect x="62.2" y="757" width="6" height="6" fill="#fff"/>
<text x="65.2" y="762.3" font-size="7.6" text-anchor="middle" fill="#111">6</text>
<rect x="103.1" y="757" width="6" height="6" fill="#fff"/>
<text x="106.1" y="762.3" font-size="7.6" text-anchor="middle" fill="#111">7</text>
<rect x="123.8" y="757" width="6" height="6" fill="#fff"/>
<text x="126.8" y="762.3" font-size="7.6" text-anchor="middle" fill="#111">9</text>
<rect x="142.0" y="757" width="11" height="6" fill="#fff"/>
<text x="147.5" y="762.3" font-size="7.6" text-anchor="middle" fill="#111">11</text>
<rect x="162.8" y="757" width="11" height="6" fill="#fff"/>
<text x="168.3" y="762.3" font-size="7.6" text-anchor="middle" fill="#111">13</text>
<rect x="213.8" y="757" width="11" height="6" fill="#fff"/>
<text x="219.3" y="762.3" font-size="7.6" text-anchor="middle" fill="#111">14</text>
<rect x="234.5" y="757" width="11" height="6" fill="#fff"/>
<text x="240.0" y="762.3" font-size="7.6" text-anchor="middle" fill="#111">16</text>
<rect x="265.4" y="757" width="11" height="6" fill="#fff"/>
<text x="270.9" y="762.3" font-size="7.6" text-anchor="middle" fill="#111">19</text>
<rect x="296.4" y="757" width="11" height="6" fill="#fff"/>
<text x="301.9" y="762.3" font-size="7.6" text-anchor="middle" fill="#111">22</text>
<rect x="327.4" y="757" width="11" height="6" fill="#fff"/>
<text x="332.9" y="762.3" font-size="7.6" text-anchor="middle" fill="#111">25</text>
<rect x="358.4" y="757" width="11" height="6" fill="#fff"/>
<text x="363.9" y="762.3" font-size="7.6" text-anchor="middle" fill="#111">28</text>
<rect x="389.4" y="757" width="11" height="6" fill="#fff"/>
<text x="394.9" y="762.3" font-size="7.6" text-anchor="middle" fill="#111">31</text>
<rect x="420.4" y="757" width="11" height="6" fill="#fff"/>
<text x="425.9" y="762.3" font-size="7.6" text-anchor="middle" fill="#111">34</text>
<rect x="451.4" y="757" width="11" height="6" fill="#fff"/>
<text x="456.9" y="762.3" font-size="7.6" text-anchor="middle" fill="#111">37</text>
<rect x="482.4" y="757" width="11" height="6" fill="#fff"/>
<text x="487.9" y="762.3" font-size="7.6" text-anchor="middle" fill="#111">40</text>
<rect x="513.4" y="757" width="11" height="6" fill="#fff"/>
<text x="518.9" y="762.3" font-size="7.6" text-anchor="middle" fill="#111">43</text>
<rect x="544.4" y="757" width="11" height="6" fill="#fff"/>
<text x="549.9" y="762.3" font-size="7.6" text-anchor="middle" fill="#111">46</text>
<rect x="575.4" y="757" width="11" height="6" fill="#fff"/>
<text x="580.9" y="762.3" font-size="7.6" text-anchor="middle" fill="#111">49</text>
<rect x="606.3" y="757" width="11" height="6" fill="#fff"/>
<text x="611.8" y="762.3" font-size="7.6" text-anchor="middle" fill="#111">52</text>
<rect x="637.3" y="757" width="11" height="6" fill="#fff"/>
<text x="642.8" y="762.3" font-size="7.6" text-anchor="middle" fill="#111">55</text>
<rect x="668.3" y="757" width="11" height="6" fill="#fff"/>
<text x="673.8" y="762.3" font-size="7.6" text-anchor="middle" fill="#111">58</text>
<rect x="699.3" y="757" width="11" height="6" fill="#fff"/>
<text x="704.8" y="762.3" font-size="7.6" text-anchor="middle" fill="#111">61</text>
<rect x="730.3" y="757" width="11" height="6" fill="#fff"/>
<text x="735.8" y="762.3" font-size="7.6" text-anchor="middle" fill="#111">64</text>
<rect x="761.3" y="757" width="11" height="6" fill="#fff"/>
<text x="766.8" y="762.3" font-size="7.6" text-anchor="middle" fill="#111">67</text>
<rect x="782.0" y="757" width="11" height="6" fill="#fff"/>
<text x="787.5" y="762.3" font-size="7.6" text-anchor="middle" fill="#111">69</text>
<rect x="346.3" y="618" width="7.4" height="10.8" fill="#c00000"/><text x="350" y="627.2" font-size="11.2" fill="#fff" text-anchor="middle" style="font-family:'Liberation Mono'">C</text>
<text x="360.7" y="628" font-size="12.5" letter-spacing="0.1" textLength="123.8">= Co-channel warning</text>
<rect x="558" y="618" width="7" height="10.8" fill="#f48484"/><text x="561.5" y="627.2" font-size="11.2" fill="#fff" text-anchor="middle" style="font-family:'Liberation Mono'">a</text>
<text x="572" y="628" font-size="12.5" textLength="156.8">= Adjacent channel warning</text>
<rect x="473.2" y="640.9" width="8.8" height="44.8" fill="#fff" fill-opacity="1"/>
<rect x="359.5" y="648.9" width="8.8" height="44.1" fill="#fff" fill-opacity="1"/>
<rect x="287.2" y="675.5" width="8.8" height="29.1" fill="#fff" fill-opacity="1"/>
<rect x="535.1" y="663.7" width="8.8" height="42.8" fill="#fff" fill-opacity="1"/>
<rect x="101.7" y="683.3" width="8.8" height="23.4" fill="#fff" fill-opacity="1"/>
<rect x="514.5" y="683.1" width="8.8" height="26.1" fill="#fff" fill-opacity="1"/>
<rect x="524.8" y="672.1" width="8.8" height="37.4" fill="#fff" fill-opacity="1"/>
<rect x="493.8" y="667.1" width="8.8" height="43.6" fill="#fff" fill-opacity="1"/>
<rect x="504.1" y="643.7" width="8.8" height="55.9" fill="#fff" fill-opacity="1"/>
<rect x="214.9" y="670.4" width="8.8" height="45.4" fill="#fff" fill-opacity="1"/>
<rect x="380.2" y="676.2" width="8.8" height="39.8" fill="#fff" fill-opacity="1"/>
<rect x="307.9" y="684.7" width="8.8" height="46.1" fill="#fff" fill-opacity="0.5"/>
<rect x="225.2" y="688.8" width="8.8" height="44.6" fill="#fff" fill-opacity="0.5"/>
<rect x="235.6" y="705.7" width="8.8" height="29.1" fill="#fff" fill-opacity="0.5"/>
<rect x="153.5" y="694.1" width="8.8" height="40.8" fill="#fff" fill-opacity="1"/>
<rect x="122.4" y="697.9" width="8.8" height="22.1" fill="#fff" fill-opacity="1"/>
<rect x="369.9" y="673.2" width="8.8" height="49.1" fill="#fff" fill-opacity="1"/>
<rect x="297.5" y="690.5" width="8.8" height="47.1" fill="#fff" fill-opacity="0.5"/>
<rect x="112.1" y="692.8" width="8.8" height="44.8" fill="#fff" fill-opacity="0.5"/>
<rect x="276.9" y="693.6" width="8.8" height="44.1" fill="#fff" fill-opacity="1"/>
<rect x="597.1" y="670.6" width="8.8" height="55.1" fill="#fff" fill-opacity="1"/>
<rect x="421.5" y="675.4" width="8.8" height="53.1" fill="#fff" fill-opacity="0.5"/>
<rect x="400.8" y="688.0" width="8.8" height="57.6" fill="#fff" fill-opacity="1"/>
<rect x="566.1" y="701.7" width="8.8" height="44.6" fill="#fff" fill-opacity="0.5"/>
<rect x="772.7" y="690.1" width="8.8" height="44.6" fill="#fff" fill-opacity="1"/>
<rect x="132.8" y="699.3" width="8.8" height="39.6" fill="#fff" fill-opacity="0.5"/>
<g opacity="1"><rect x="472.9" y="688.7" width="9.2" height="3.3" rx="1.1" fill="#0a50c8"/><text transform="translate(480.7 684.9) rotate(-90)" font-size="9.1" textLength="43.2" lengthAdjust="spacingAndGlyphs" fill="#0a50c8">WADL-DT</text></g>
<g opacity="1"><rect x="359.3" y="696.0" width="9.2" height="3.3" rx="1.1" fill="#0a50c8"/><text transform="translate(367.0 692.2) rotate(-90)" font-size="9.1" textLength="42.5" lengthAdjust="spacingAndGlyphs" fill="#0a50c8">WCMZ-TV</text></g>
<g opacity="1"><rect x="287.0" y="707.6" width="9.2" height="3.3" rx="1.1" fill="#0a50c8"/><text transform="translate(294.7 703.8) rotate(-90)" font-size="9.1" textLength="27.5" lengthAdjust="spacingAndGlyphs" fill="#0a50c8">WMYD</text></g>
<g opacity="1"><rect x="534.9" y="709.5" width="9.2" height="3.3" rx="1.1" fill="#0a50c8"/><text transform="translate(542.6 705.7) rotate(-90)" font-size="9.1" textLength="41.2" lengthAdjust="spacingAndGlyphs" fill="#0a50c8">WDIV-DT</text></g>
<g opacity="1"><rect x="99.9" y="708.1" width="12.4" height="6.6" rx="3.3" fill="#ffee00"/><rect x="101.5" y="709.8" width="9.2" height="3.3" rx="1.1" fill="#0a50c8"/><text transform="translate(109.2 705.9) rotate(-90)" font-size="9.1" textLength="21.8" lengthAdjust="spacingAndGlyphs" fill="#0a50c8">WJBK</text></g>
<g opacity="1"><rect x="514.3" y="712.2" width="9.2" height="3.3" rx="1.1" fill="#0a50c8"/><text transform="translate(522.0 708.4) rotate(-90)" font-size="9.1" textLength="24.5" lengthAdjust="spacingAndGlyphs" fill="#0a50c8">WTVS</text></g>
<g opacity="1"><rect x="524.6" y="712.6" width="9.2" height="3.3" rx="1.1" fill="#0a50c8"/><text transform="translate(532.3 708.7) rotate(-90)" font-size="9.1" textLength="35.8" lengthAdjust="spacingAndGlyphs" fill="#0a50c8">WWJ-TV</text></g>
<g opacity="1"><rect x="493.6" y="713.7" width="9.2" height="3.3" rx="1.1" fill="#0a50c8"/><text transform="translate(501.3 709.9) rotate(-90)" font-size="9.1" textLength="42.0" lengthAdjust="spacingAndGlyphs" fill="#0a50c8">WXYZ-DT</text></g>
<g opacity="1"><rect x="503.9" y="702.6" width="9.2" height="3.3" rx="1.1" fill="#7000c8"/><text transform="translate(511.6 698.8) rotate(-90)" font-size="9.1" textLength="54.3" lengthAdjust="spacingAndGlyphs" fill="#7000c8">CKCO-TV-3</text></g>
<g opacity="1"><rect x="214.7" y="718.8" width="9.2" height="3.3" rx="1.1" fill="#0a50c8"/><text transform="translate(222.4 715.0) rotate(-90)" font-size="9.1" textLength="43.8" lengthAdjust="spacingAndGlyphs" fill="#0a50c8">WKBD-DT</text></g>
<g opacity="1"><rect x="380.0" y="719.1" width="9.2" height="3.3" rx="1.1" fill="#0a50c8"/><text transform="translate(387.7 715.2) rotate(-90)" font-size="9.1" textLength="38.2" lengthAdjust="spacingAndGlyphs" fill="#0a50c8">WEYI-DT</text></g>
<g opacity="0.5"><rect x="307.7" y="733.9" width="9.2" height="3.3" rx="1.1" fill="#0a50c8"/><text transform="translate(315.4 730.0) rotate(-90)" font-size="9.1" textLength="44.5" lengthAdjust="spacingAndGlyphs" fill="#0a50c8">WUDT-CD</text></g>
<g opacity="0.5"><rect x="225.0" y="736.4" width="9.2" height="3.3" rx="1.1" fill="#0a50c8"/><text transform="translate(232.7 732.6) rotate(-90)" font-size="9.1" textLength="43.0" lengthAdjust="spacingAndGlyphs" fill="#0a50c8">WDCQ-TV</text></g>
<g opacity="0.5"><rect x="235.4" y="737.8" width="9.2" height="3.3" rx="1.1" fill="#0a50c8"/><text transform="translate(243.1 734.0) rotate(-90)" font-size="9.1" textLength="27.5" lengthAdjust="spacingAndGlyphs" fill="#0a50c8">WSMH</text></g>
<g opacity="1"><rect x="151.7" y="736.3" width="12.4" height="6.6" rx="3.3" fill="#ffee00"/><rect x="153.3" y="738.0" width="9.2" height="3.3" rx="1.1" fill="#0a50c8"/><text transform="translate(161.0 734.1) rotate(-90)" font-size="9.1" textLength="39.2" lengthAdjust="spacingAndGlyphs" fill="#0a50c8">WJRT-TV</text></g>
<g opacity="1"><rect x="120.6" y="721.4" width="12.4" height="6.6" rx="3.3" fill="#ffee00"/><rect x="122.2" y="723.0" width="9.2" height="3.3" rx="1.1" fill="#7000c8"/><text transform="translate(129.9 719.2) rotate(-90)" font-size="9.1" textLength="20.5" lengthAdjust="spacingAndGlyphs" fill="#7000c8">CBET</text></g>
<g opacity="1"><rect x="369.6" y="725.3" width="9.2" height="3.3" rx="1.1" fill="#7000c8"/><text transform="translate(377.4 721.5) rotate(-90)" font-size="9.1" textLength="47.5" lengthAdjust="spacingAndGlyphs" fill="#7000c8">CIII-TV-29</text></g>
<g opacity="0.5"><rect x="297.3" y="740.6" width="9.2" height="3.3" rx="1.1" fill="#0a50c8"/><text transform="translate(305.0 736.8) rotate(-90)" font-size="9.1" textLength="45.5" lengthAdjust="spacingAndGlyphs" fill="#0a50c8">WNEM-DT</text></g>
<g opacity="0.5"><rect x="110.3" y="739.0" width="12.4" height="6.6" rx="3.3" fill="#ffee00"/><rect x="111.9" y="740.6" width="9.2" height="3.3" rx="1.1" fill="#0a50c8"/><text transform="translate(119.6 736.8) rotate(-90)" font-size="9.1" textLength="43.2" lengthAdjust="spacingAndGlyphs" fill="#0a50c8">WUDT-LD</text></g>
<g opacity="1"><rect x="276.7" y="740.8" width="9.2" height="3.3" rx="1.1" fill="#0a50c8"/><text transform="translate(284.4 736.9) rotate(-90)" font-size="9.1" textLength="42.5" lengthAdjust="spacingAndGlyphs" fill="#0a50c8">WHNE-LD</text></g>
<g opacity="1"><rect x="596.9" y="728.8" width="9.2" height="3.3" rx="1.1" fill="#7000c8"/><text transform="translate(604.6 724.9) rotate(-90)" font-size="9.1" textLength="53.5" lengthAdjust="spacingAndGlyphs" fill="#7000c8">CHCH-TV-2</text></g>
<g opacity="0.5"><rect x="421.3" y="731.6" width="9.2" height="3.3" rx="1.1" fill="#7000c8"/><text transform="translate(429.0 727.7) rotate(-90)" font-size="9.1" textLength="51.5" lengthAdjust="spacingAndGlyphs" fill="#7000c8">CBLN-TV-2</text></g>
<g opacity="1"><rect x="400.6" y="748.7" width="9.2" height="3.3" rx="1.1" fill="#0a50c8"/><text transform="translate(408.3 744.8) rotate(-90)" font-size="9.1" textLength="56.0" lengthAdjust="spacingAndGlyphs" fill="#0a50c8">CICO-DT-32</text></g>
<g opacity="0.5"><rect x="565.9" y="749.3" width="9.2" height="3.3" rx="1.1" fill="#0a50c8"/><text transform="translate(573.6 745.5) rotate(-90)" font-size="9.1" textLength="43.0" lengthAdjust="spacingAndGlyphs" fill="#0a50c8">WAQP-DT</text></g>
<g opacity="1"><rect x="772.5" y="737.7" width="9.2" height="3.3" rx="1.1" fill="#7000c8"/><text transform="translate(780.2 733.9) rotate(-90)" font-size="9.1" textLength="43.0" lengthAdjust="spacingAndGlyphs" fill="#7000c8">CBLFT-17</text></g>
<g opacity="0.5"><rect x="131.0" y="740.3" width="12.4" height="6.6" rx="3.3" fill="#ffee00"/><rect x="132.6" y="741.9" width="9.2" height="3.3" rx="1.1" fill="#7000c8"/><text transform="translate(140.3 738.1) rotate(-90)" font-size="9.1" textLength="38.0" lengthAdjust="spacingAndGlyphs" fill="#7000c8">CFPL-TV</text></g>
</svg>
</div></body></html>
